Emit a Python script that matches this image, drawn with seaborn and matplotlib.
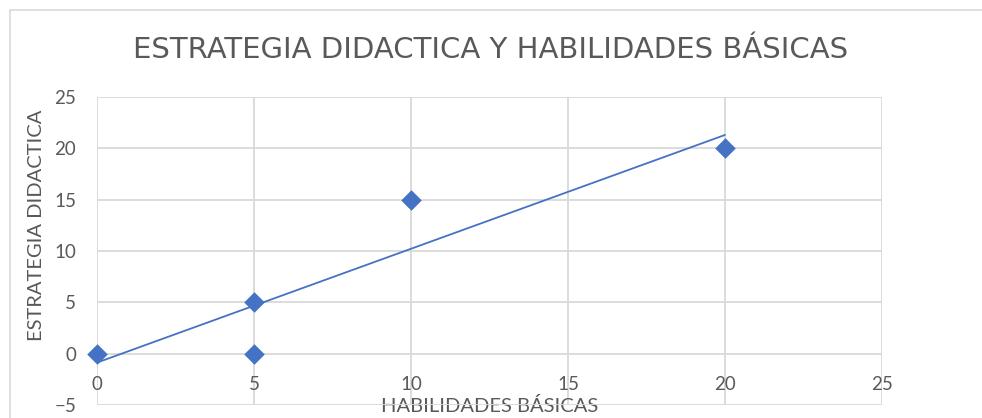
import numpy as np
import pandas as pd
import seaborn as sns
import matplotlib.pyplot as plt
from matplotlib.patches import Rectangle

# data
habilidades = [0, 5, 5, 10, 20]
estrategia = [0, 5, 0, 15, 20]
x_ticks = [0, 5, 10, 15, 20, 25]
y_ticks = [-5, 0, 5, 10, 15, 20, 25]

title = "ESTRATEGIA DIDACTICA Y HABILIDADES BÁSICAS"
x_label = "HABILIDADES BÁSICAS"
y_label = "ESTRATEGIA DIDACTICA"

blue = "#4472C4"
grey_text = "#595959"
grid_col = "#D9D9D9"

sns.set_theme(style="white")
plt.rcParams['font.family'] = ['Lato', 'DejaVu Sans']

df = pd.DataFrame({'x': habilidades, 'y': estrategia})

fig = plt.figure(figsize=(9.82, 4.18), dpi=100)
ax = fig.add_axes([97 / 982, 1 - 405 / 418, 785 / 982, 308 / 418])

# chart area border
fig.patches.append(Rectangle((10 / 982, -0.1), 1.1, 1 - 10 / 418 + 0.1,
                             transform=fig.transFigure, fill=False,
                             edgecolor=grid_col, linewidth=1.2))

# linear trendline
slope, intercept = np.polyfit(df['x'], df['y'], 1)
xs = np.array([df['x'].min(), df['x'].max()])
ax.plot(xs, slope * xs + intercept, color=blue, linewidth=1.3, zorder=2)

sns.scatterplot(data=df, x='x', y='y', marker='D', s=110, color=blue,
                edgecolor=blue, linewidth=0, ax=ax, zorder=3, clip_on=False)

ax.set_xlim(0, 25)
ax.set_ylim(-5, 25)
ax.set_xticks(x_ticks)
ax.set_yticks(y_ticks)
ax.grid(True, color=grid_col, linewidth=1.3)
ax.set_axisbelow(True)
for s in ax.spines.values():
    s.set_visible(False)
ax.spines['bottom'].set_position(('data', 0))

ax.tick_params(axis='x', length=0, pad=16, labelsize=13.5, labelcolor=grey_text)
ax.tick_params(axis='y', length=0, pad=15, labelsize=13.5, labelcolor=grey_text)

ax.set_xlabel(x_label, fontsize=14.5, color=grey_text)
ax.xaxis.set_label_coords(0.5, 0.026)
ax.set_ylabel(y_label, fontsize=14.5, color=grey_text)
ax.yaxis.set_label_coords(-0.066, 0.584)

fig.text(491 / 982, 1 - 50 / 418, title, ha='center', va='center',
         fontsize=21, color=grey_text, family='DejaVu Sans')

fig.savefig("out.png", dpi=100)
